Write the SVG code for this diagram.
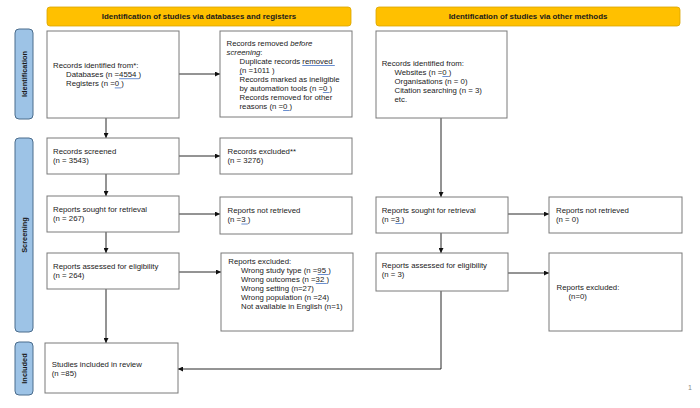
<svg xmlns="http://www.w3.org/2000/svg" width="700" height="408" viewBox="0 0 700 408">
<style>
text{font-family:"Liberation Sans",Arial,sans-serif;font-size:7.8px;fill:#1a1a1a}
.hdr{fill:#FFC000;stroke:#D9A400;stroke-width:0.8}
.hdrt{font-weight:bold;font-size:7.9px;text-anchor:middle}
.side{fill:#9DC3E6;stroke:#4A6C8C;stroke-width:1}
.sidet{font-weight:bold;font-size:7.4px;text-anchor:middle}
.box{fill:#fff;stroke:#7a7a7a;stroke-width:1}
.con{fill:none;stroke:#111;stroke-width:0.9}
.ul{stroke:#4472C4;stroke-width:0.8;fill:none}
</style>
<defs>
<marker id="ah" viewBox="0 0 10 10" refX="10" refY="5" markerWidth="5" markerHeight="5" markerUnits="userSpaceOnUse" orient="auto">
<path d="M0,0L10,5L0,10z" fill="#111"/>
</marker>
</defs>
<rect width="700" height="408" fill="#fff"/>

<g id="header-databases"><rect class="hdr" x="47" y="7" width="304" height="19" rx="3"/><text class="hdrt" x="199" y="19.3">Identification of studies via databases and registers</text></g>
<g id="header-other"><rect class="hdr" x="376" y="7" width="304" height="19" rx="3"/><text class="hdrt" x="528" y="19.3">Identification of studies via other methods</text></g>

<g id="label-identification"><rect class="side" x="15" y="29" width="18" height="90" rx="4"/><text class="sidet" transform="translate(26.6,74) rotate(-90)">Identification</text></g>
<g id="label-screening"><rect class="side" x="15" y="138" width="18" height="194" rx="4"/><text class="sidet" transform="translate(26.6,235) rotate(-90)">Screening</text></g>
<g id="label-included"><rect class="side" x="15" y="342" width="18" height="53" rx="4"/><text class="sidet" transform="translate(26.6,368.5) rotate(-90)">Included</text></g>

<g id="connectors">
<path class="con" d="M179,74H220" marker-end="url(#ah)"/>
<path class="con" d="M106,118V138" marker-end="url(#ah)"/>
<path class="con" d="M179,156H220" marker-end="url(#ah)"/>
<path class="con" d="M106,174V196" marker-end="url(#ah)"/>
<path class="con" d="M179,214H220" marker-end="url(#ah)"/>
<path class="con" d="M106,232V253" marker-end="url(#ah)"/>
<path class="con" d="M179,272H221" marker-end="url(#ah)"/>
<path class="con" d="M106,289V343" marker-end="url(#ah)"/>
<path class="con" d="M441,118V197" marker-end="url(#ah)"/>
<path class="con" d="M508,214H549" marker-end="url(#ah)"/>
<path class="con" d="M441,233V253" marker-end="url(#ah)"/>
<path class="con" d="M508,273H549" marker-end="url(#ah)"/>
<path class="con" d="M441,291V369H178" marker-end="url(#ah)"/>
</g>

<g id="records-identified">
<rect class="box" x="47" y="31" width="132" height="87"/>
<text x="53" y="67.5">Records identified from*:</text>
<text x="66" y="76.7">Databases (n =4554 )</text>
<text x="66" y="85.9">Registers (n =0 )</text>
<path class="ul" d="M119.1,78.7H138.9M114.8,87.9H121.4"/>
</g>

<g id="records-removed">
<rect class="box" x="220" y="31" width="132" height="86"/>
<text x="226.5" y="45.5">Records removed <tspan font-style="italic">before</tspan></text>
<text x="226.5" y="54.5"><tspan font-style="italic">screening</tspan>:</text>
<text x="239.5" y="63.5">Duplicate records removed </text>
<text x="239.5" y="72.5">(n =1011 )</text>
<text x="239.5" y="81.5">Records marked as ineligible</text>
<text x="239.5" y="90.5">by automation tools (n =0 )</text>
<text x="239.5" y="99.5">Records removed for other</text>
<text x="239.5" y="108.5">reasons (n =0 )</text>
<path class="ul" d="M302.3,65.5H334.8M239.5,74.5H242M322.9,92.5H329.4M283.1,110.5H289.6"/>
</g>

<g id="other-identified">
<rect class="box" x="376" y="31" width="131" height="87"/>
<text x="381.7" y="65.5">Records identified from:</text>
<text x="394.5" y="74.5">Websites (n =0 )</text>
<text x="394.5" y="83.5">Organisations (n = 0)</text>
<text x="394.5" y="92.5">Citation searching (n = 3)</text>
<text x="394.5" y="101.5">etc.</text>
<path class="ul" d="M442.4,76.5H448.9"/>
</g>

<g id="records-screened">
<rect class="box" x="47" y="138" width="132" height="36"/>
<text x="53" y="154">Records screened</text>
<text x="53" y="163">(n = 3543)</text>
</g>

<g id="records-excluded">
<rect class="box" x="220" y="138" width="132" height="36"/>
<text x="227.5" y="154">Records excluded**</text>
<text x="227.5" y="163">(n = 3276)</text>
</g>

<g id="reports-sought">
<rect class="box" x="47" y="196" width="132" height="36"/>
<text x="53" y="212">Reports sought for retrieval</text>
<text x="53" y="221">(n = 267)</text>
</g>

<g id="reports-not-retrieved">
<rect class="box" x="220" y="197" width="132" height="37"/>
<text x="227.5" y="213">Reports not retrieved</text>
<text x="227.5" y="222">(n =3 )</text>
<path class="ul" d="M241.4,224H247.8"/>
</g>

<g id="reports-assessed">
<rect class="box" x="47" y="253" width="132" height="36"/>
<text x="53" y="269">Reports assessed for eligibility</text>
<text x="53" y="278">(n = 264)</text>
</g>

<g id="reports-excluded">
<rect class="box" x="221" y="253" width="132" height="78"/>
<text x="228.3" y="263.5">Reports excluded:</text>
<text x="241" y="272.5">Wrong study type (n =95 )</text>
<text x="241" y="281.5">Wrong outcomes (n =32 )</text>
<text x="241" y="290.5">Wrong setting (n=27)</text>
<text x="241" y="299.5">Wrong population (n =24)</text>
<text x="241" y="308.5">Not available in English (n=1)</text>
<path class="ul" d="M317.6,274.5H328.4M315.8,283.5H326.7"/>
</g>

<g id="studies-included">
<rect class="box" x="45" y="343" width="133" height="50"/>
<text x="51.7" y="366.5">Studies included in review</text>
<text x="51.7" y="375.5">(n =85)</text>
</g>

<g id="other-sought">
<rect class="box" x="376" y="197" width="132" height="36"/>
<text x="381.7" y="212.5">Reports sought for retrieval</text>
<text x="381.7" y="221.5">(n =3 )</text>
<path class="ul" d="M395.4,223.5H401.8"/>
</g>

<g id="other-not-retrieved">
<rect class="box" x="549" y="197" width="133" height="36"/>
<text x="556" y="212.5">Reports not retrieved</text>
<text x="556" y="221.5">(n = 0)</text>
</g>

<g id="other-assessed">
<rect class="box" x="376" y="253" width="132" height="38"/>
<text x="381.7" y="268">Reports assessed for eligibility</text>
<text x="381.7" y="277">(n = 3)</text>
</g>

<g id="other-excluded">
<rect class="box" x="549" y="253" width="133" height="78"/>
<text x="556.5" y="290">Reports excluded:</text>
<text x="568.5" y="299">(n=0)</text>
</g>

<text x="688" y="390" style="font-size:7px;fill:#888">1</text>
</svg>
